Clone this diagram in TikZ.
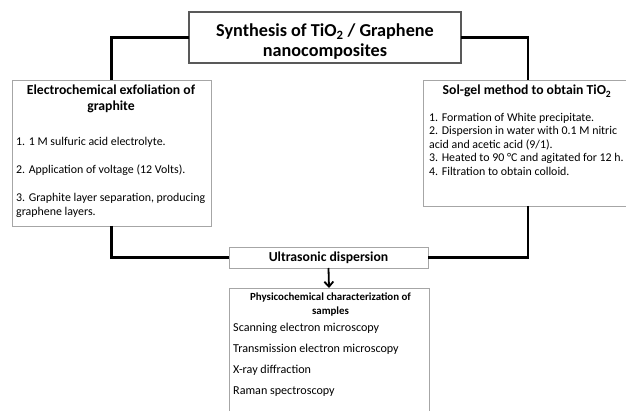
\documentclass[tikz,border=0pt]{standalone}
\usepackage{fontspec}
\setmainfont{Carlito}
\usetikzlibrary{arrows.meta}

\tikzset{
    box/.style = {
        draw=gray!70,
        line width=0.8pt,
        fill=white,
        anchor=north west,
        inner sep=0,
        outer sep=0,
    },
    title box/.style = {
        box,
        draw=black!65,
        line width=1.2pt,
    },
    title/.style = {
        font=\bfseries\fontsize{18.2}{20}\selectfont,
        anchor=base,
        inner sep=0,
    },
    heading/.style = {
        font=\bfseries\fontsize{13.7}{15}\selectfont,
        anchor=base,
        inner sep=0,
    },
    item/.style = {
        font=\fontsize{11.9}{13}\selectfont,
        anchor=base west,
        inner sep=0,
    },
    link/.style = {
        line width=2.2pt,
    },
}

\begin{document}
\begin{tikzpicture}[x=1pt, y=-1pt]
    \useasboundingbox (0,0) rectangle (626,411);

    % boxes
    \node[title box, minimum width=272pt, minimum height=51pt] (synth) at (189,12) {};
    \node[box, minimum width=199pt, minimum height=146pt] (exfol) at (12,80) {};
    \node[box, minimum width=210pt, minimum height=126pt] (solgel) at (423,80) {};
    \node[box, minimum width=199pt, minimum height=21pt] (ultra) at (229,247) {};
    \node[box, minimum width=200pt, minimum height=130pt] (charact) at (229,288) {};

    % connectors
    \draw[link] (synth.west) -| (exfol.north);
    \draw[link] (synth.east) -| (solgel.north);
    \draw[link] (exfol.south) |- (ultra.west);
    \draw[link] (solgel.south) |- (ultra.east);
    \draw[link, line width=1.8pt, -{Straight Barb[length=5pt, width=9pt]}] (ultra.south) -- (charact.north);

    % title
    \node[title] (t1) at (325,37) {Synthesis of TiO\textsubscript{2} / Graphene};
    \node[title] (t2) at (325,57) {nanocomposites};

    % electrochemical exfoliation
    \node[heading] (h1) at (111,95) {Electrochemical exfoliation of};
    \node[heading] (h2) at (111,111) {graphite};
    \foreach \a/\y in {
        1. 1 M sulfuric acid electrolyte./146,
        2. Application of voltage (12 Volts)./174,
        {3. Graphite layer separation, producing}/202,
        graphene layers./216
    } {
        \node[item] at (16,\y) {\a};
    }

    % sol-gel
    \node[heading] (h3) at (527,95) {Sol-gel method to obtain TiO\textsubscript{2}};
    \foreach \a [count=\n] in {
        1. Formation of White precipitate.,
        2. Dispersion in water with 0.1 M nitric,
        acid and acetic acid (9/1).,
        3. Heated to 90 °C and agitated for 12 h.,
        4. Filtration to obtain colloid.
    } {
        \node[item] at (429,108+13.5*\n) {\a};
    }

    % ultrasonic
    \node[heading] (h4) at (328.5,262) {Ultrasonic dispersion};

    % characterization
    \node[heading, font=\bfseries\fontsize{10.9}{12}\selectfont] (h5) at (330.5,300.5) {Physicochemical characterization of};
    \node[heading, font=\bfseries\fontsize{10.9}{12}\selectfont] (h6) at (330.5,315) {samples};
    \foreach \a [count=\n] in {
        Scanning electron microscopy,
        Transmission electron microscopy,
        X-ray diffraction,
        Raman spectroscopy
    } {
        \node[item, font=\fontsize{12.1}{14}\selectfont] at (233,309.7+21.3*\n) {\a};
    }

\end{tikzpicture}
\end{document}
